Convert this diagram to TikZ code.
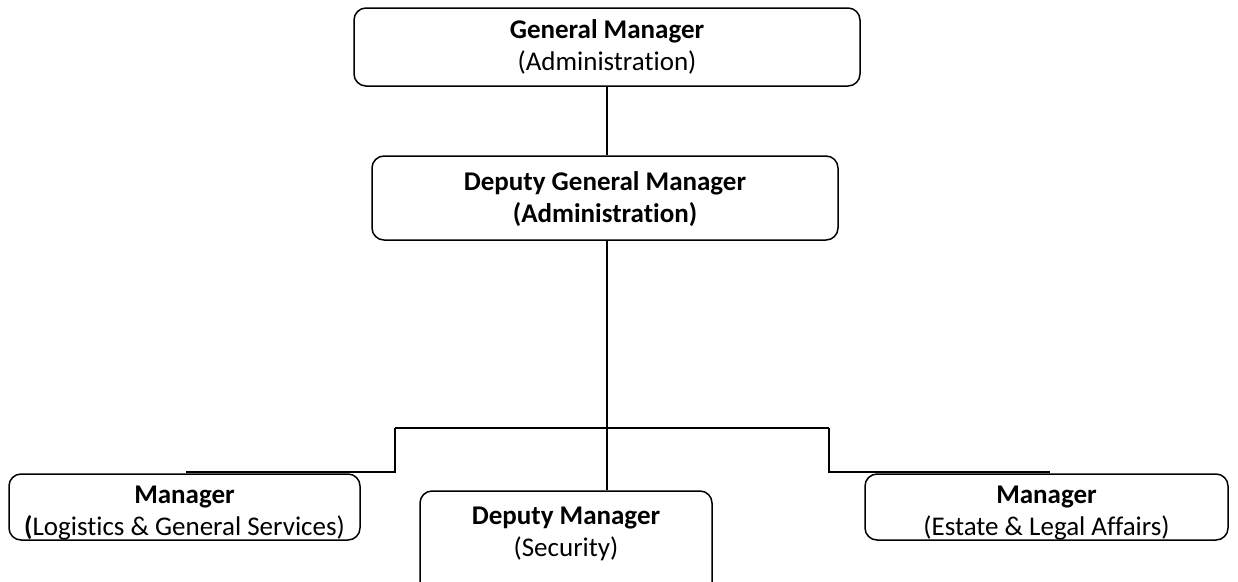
\documentclass[tikz,border=0pt]{standalone}
\usepackage{fontspec}
\setmainfont{Carlito}[Ligatures={NoCommon}]
\begin{document}
\begin{tikzpicture}[x=1pt,y=-1pt,
  box/.style={draw, line width=1.5pt, rounded corners=12pt, inner sep=0pt},
  lbl/.style={align=center, font=\fontsize{27}{32}\selectfont, inner sep=0pt},
  conn/.style={line width=1.1pt}]
\useasboundingbox (0,0) rectangle (1238,581);
% boxes
\node (gm)  [box, minimum width=506pt, minimum height=78pt] at (607,47) {};
\node (dgm) [box, minimum width=466pt, minimum height=84pt] at (605,198) {};
\node (lm)  [box, minimum width=351pt, minimum height=66pt] at (184.5,507) {};
\node (dm)  [box, minimum width=292pt, minimum height=104pt] at (566,543) {};
\node (rm)  [box, minimum width=363pt, minimum height=66pt] at (1046.5,507) {};
% texts
\node (gmt)  [lbl] at (607,47) {\textbf{General Manager}\\(Administration)};
\node (dgmt) [lbl] at (605,199) {\textbf{Deputy General Manager}\\\textbf{(Administration)}};
\node (lmt)  [lbl] at (184.5,513) {\textbf{Manager}\\\textbf{(}Logistics \& General Services)};
\node (dmt)  [lbl] at (566,534) {\textbf{Deputy Manager}\\(Security)};
\node (rmt)  [lbl] at (1046.5,513) {\textbf{Manager}\\(Estate \& Legal Affairs)};
% connectors
\coordinate (lb) at (395,428);
\coordinate (rb) at (829,428);
\coordinate (lend) at (186,472);
\coordinate (rend) at (1050,472);
\draw[conn] (gm.south) -- (gm.south |- dgm.north);
\draw[conn] (gm.south |- dgm.south) -- (gm.south |- dm.north);
\draw[conn] (lb) -- (rb);
\draw[conn] (lb) |- (lend);
\draw[conn] (rb) |- (rend);
\end{tikzpicture}
\end{document}
